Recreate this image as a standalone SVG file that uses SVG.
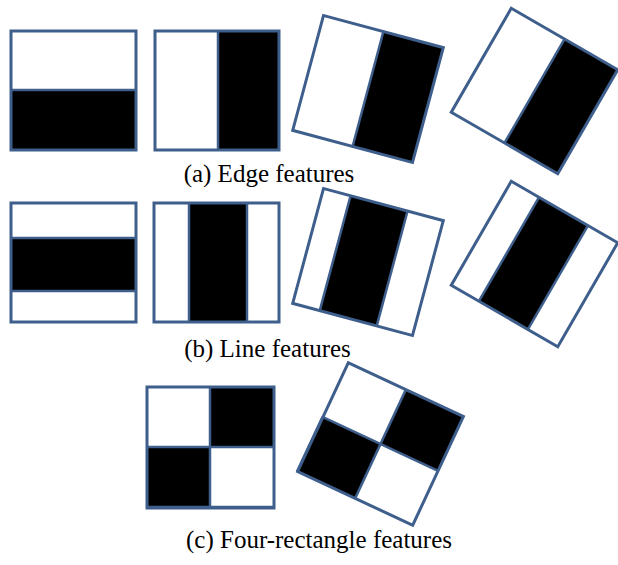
<svg xmlns="http://www.w3.org/2000/svg" width="618" height="565" viewBox="0 0 618 565">
  <style>
    .light { fill: #ffffff; }
    .dark { fill: #000000; }
    .frame { fill: none; stroke: #3e5e8c; stroke-width: 3; stroke-linejoin: miter; }
    .split { stroke: #3e5e8c; stroke-width: 2.5; fill: none; }
    .caption { font-family: "Liberation Serif", "Times New Roman", serif; font-size: 25px; fill: #000000; text-anchor: middle; }
  </style>
  <rect x="0" y="0" width="618" height="565" fill="#ffffff"/>

  <!-- (a) Edge features -->
  <g id="edge-horizontal">
    <rect class="light" x="11" y="31" width="125" height="59"/>
    <rect class="dark" x="11" y="90" width="125" height="60"/>
    <line class="split" x1="11" y1="90" x2="136" y2="90"/>
    <rect class="frame" x="11" y="31" width="125" height="119"/>
  </g>
  <g id="edge-vertical">
    <rect class="light" x="155" y="31" width="63" height="119"/>
    <rect class="dark" x="218" y="31" width="61" height="119"/>
    <line class="split" x1="218" y1="31" x2="218" y2="150"/>
    <rect class="frame" x="155" y="31" width="124" height="119"/>
  </g>
  <g id="edge-tilt-15" transform="translate(368 89) rotate(15)">
    <rect class="light" x="-62" y="-59.5" width="62" height="119"/>
    <rect class="dark" x="0" y="-59.5" width="62" height="119"/>
    <line class="split" x1="0" y1="-59.5" x2="0" y2="59.5"/>
    <rect class="frame" x="-62" y="-59.5" width="124" height="119"/>
  </g>
  <g id="edge-tilt-30" transform="translate(534.5 91) rotate(30)">
    <rect class="light" x="-61.5" y="-60" width="61.5" height="120"/>
    <rect class="dark" x="0" y="-60" width="61.5" height="120"/>
    <line class="split" x1="0" y1="-60" x2="0" y2="60"/>
    <rect class="frame" x="-61.5" y="-60" width="123" height="120"/>
  </g>
  <text class="caption" font-family="Liberation Serif, serif" x="269" y="182">(a) Edge features</text>

  <!-- (b) Line features -->
  <g id="line-horizontal">
    <rect class="light" x="11" y="203" width="125" height="119"/>
    <rect class="dark" x="11" y="238" width="125" height="53"/>
    <line class="split" x1="11" y1="238" x2="136" y2="238"/>
    <line class="split" x1="11" y1="291" x2="136" y2="291"/>
    <rect class="frame" x="11" y="203" width="125" height="119"/>
  </g>
  <g id="line-vertical">
    <rect class="light" x="154" y="203" width="125" height="119"/>
    <rect class="dark" x="189" y="203" width="58" height="119"/>
    <line class="split" x1="189" y1="203" x2="189" y2="322"/>
    <line class="split" x1="247" y1="203" x2="247" y2="322"/>
    <rect class="frame" x="154" y="203" width="125" height="119"/>
  </g>
  <g id="line-tilt-15" transform="translate(368 262) rotate(15)">
    <rect class="light" x="-62" y="-59.5" width="124" height="119"/>
    <rect class="dark" x="-34" y="-59.5" width="59" height="119"/>
    <line class="split" x1="-34" y1="-59.5" x2="-34" y2="59.5"/>
    <line class="split" x1="25" y1="-59.5" x2="25" y2="59.5"/>
    <rect class="frame" x="-62" y="-59.5" width="124" height="119"/>
  </g>
  <g id="line-tilt-30" transform="translate(534.5 264) rotate(30)">
    <rect class="light" x="-61.5" y="-60" width="123" height="120"/>
    <rect class="dark" x="-29.5" y="-60" width="56.5" height="120"/>
    <line class="split" x1="-29.5" y1="-60" x2="-29.5" y2="60"/>
    <line class="split" x1="27" y1="-60" x2="27" y2="60"/>
    <rect class="frame" x="-61.5" y="-60" width="123" height="120"/>
  </g>
  <text class="caption" font-family="Liberation Serif, serif" x="267.5" y="357">(b) Line features</text>

  <!-- (c) Four-rectangle features -->
  <g id="four-upright">
    <rect class="light" x="147" y="387" width="127" height="121"/>
    <rect class="dark" x="210" y="387" width="64" height="60"/>
    <rect class="dark" x="147" y="447" width="63" height="61"/>
    <line class="split" x1="210" y1="387" x2="210" y2="508"/>
    <line class="split" x1="147" y1="447" x2="274" y2="447"/>
    <rect class="frame" x="147" y="387" width="127" height="121"/>
    <line class="split" x1="146" y1="507" x2="275" y2="507" stroke-width="5"/>
  </g>
  <g id="four-tilt-25" transform="translate(380.5 444) rotate(25)">
    <rect class="light" x="-63.5" y="-60" width="127" height="120"/>
    <rect class="dark" x="0" y="-60" width="63.5" height="60"/>
    <rect class="dark" x="-63.5" y="0" width="63.5" height="60"/>
    <line class="split" x1="0" y1="-60" x2="0" y2="60"/>
    <line class="split" x1="-63.5" y1="0" x2="63.5" y2="0"/>
    <rect class="frame" x="-63.5" y="-60" width="127" height="120"/>
    <line class="split" x1="-64" y1="0" x2="-64" y2="60" stroke-width="4.5"/>
  </g>
  <text class="caption" font-family="Liberation Serif, serif" x="319" y="548">(c) Four-rectangle features</text>
</svg>
